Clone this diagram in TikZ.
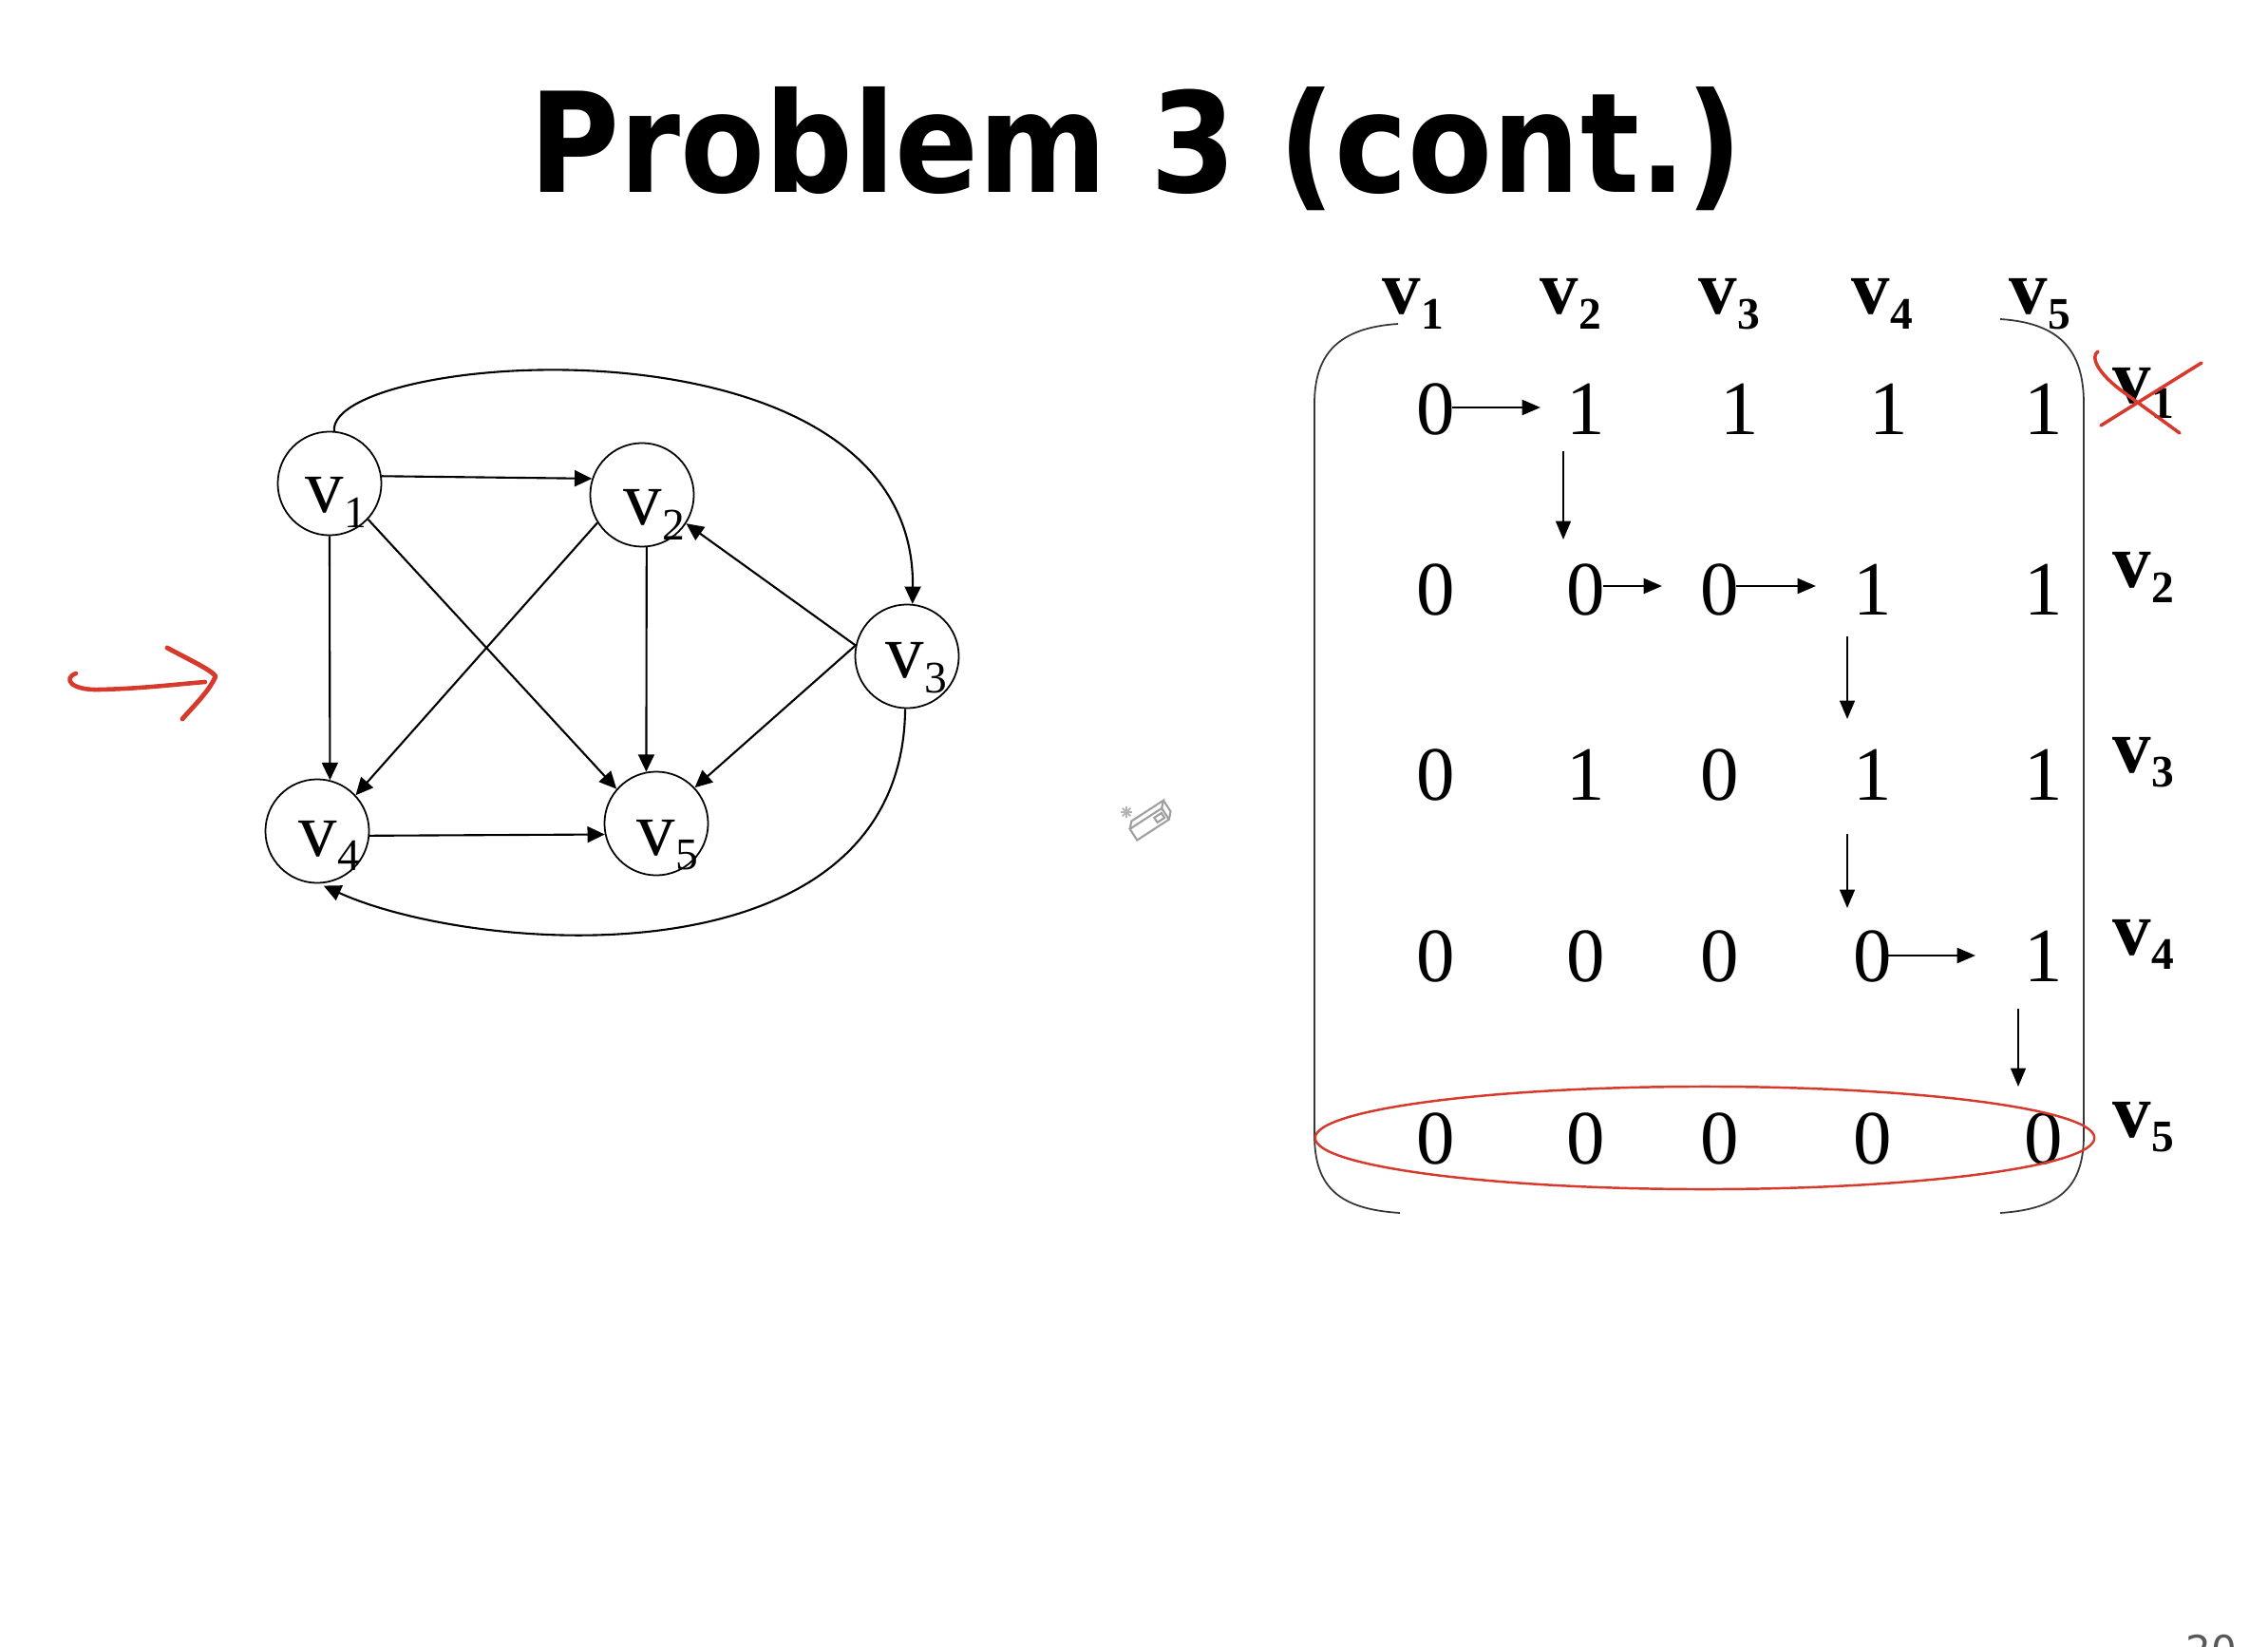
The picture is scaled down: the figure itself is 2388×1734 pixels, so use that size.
\documentclass[tikz,border=0pt]{standalone}
\usepackage{fontspec}
\setmainfont{Liberation Serif}
\newfontfamily\titlefont{DejaVu Sans}
\usetikzlibrary{arrows.meta,calc}
\definecolor{inkred}{RGB}{214,58,44}
\definecolor{brk}{RGB}{55,55,55}
\newcommand\gv[1]{{\fontsize{23}{23}\selectfont v}\raisebox{-4.5pt}{\fontsize{13.5}{13.5}\selectfont #1}}
\newcommand\mv[1]{{\fontsize{23}{23}\selectfont\bfseries v}\raisebox{-4.5pt}{\fontsize{13.5}{13.5}\selectfont\bfseries #1}}
\begin{document}
\begin{tikzpicture}[x=0.01cm,y=-0.01cm,
  vert/.style={circle,draw,line width=0.5pt,minimum size=1.09cm,inner sep=0pt},
  glab/.style={anchor=base west,inner sep=0pt},
  mlab/.style={anchor=base west,inner sep=0pt},
  dig/.style={inner sep=0pt,font=\fontsize{23}{23}\selectfont},
  garrow/.style={line width=0.6pt,-{Triangle[length=5.2pt,width=4.8pt]}},
  harr/.style={line width=0.8pt,-{Triangle[length=5.5pt,width=4.5pt]}},
  varr/.style={line width=0.55pt,-{Triangle[length=5.5pt,width=4.5pt]}},
  ink/.style={draw=inkred,line cap=round,line join=round},
  brack/.style={draw=brk,line width=0.5pt}]
\fill[white] (0,0) rectangle (2388,1734);
\useasboundingbox (0,0) rectangle (2388,1734);

% title
\node[anchor=base,inner sep=0pt] (title) at (1196,203)
  {\resizebox{12.77cm}{1.11cm}{\titlefont\bfseries Problem 3 (cont.)}};

% graph
\node[vert] (v1) at (347,509) {};
\node[vert] (v2) at (676,521) {};
\node[vert] (v3) at (955,691) {};
\node[vert] (v4) at (334,875) {};
\node[vert] (v5) at (691,867) {};
\node[glab] (lv1) at (321,540) {\gv{1}};
\node[glab] (lv2) at (656,553) {\gv{2}};
\node[glab] (lv3) at (932,714) {\gv{3}};
\node[glab] (lv4) at (314,901) {\gv{4}};
\node[glab] (lv5) at (670,900) {\gv{5}};

\draw[garrow] (v1.8) -- (v2.162);
\draw[garrow] (v1.270) -- (v4.76);
\draw[garrow] (v1.317) -- (v5.139);
\draw[garrow] (v2.212) -- (v4.43);
\draw[garrow] (v2.275) -- (v5.101);
\draw[garrow] (v3.168) -- (v2.327);
\draw[garrow] (v3.168) -- (v5.43);
\draw[garrow] (v4.355) -- (v5.192);
\draw[garrow] (v1.85) .. controls (345,370) and (965,320) .. (v3.84);
\draw[garrow,shorten >=1.5pt] (v3.268) .. controls (950,1040) and (500,1005) .. (v4.272);

% red arrow
\draw[ink,line width=1.3pt] (80,709) .. controls (66,714) and (74,727) .. (105,726)
  .. controls (150,725) and (190,720) .. (216,718);
\draw[ink,line width=1.4pt] (176,682) .. controls (200,695) and (222,705) .. (227,712)
  .. controls (220,728) and (205,742) .. (192,757);

% eraser cursor
\begin{scope}[draw=gray!75,line width=0.6pt,rotate around={33:(1208,868)}]
  \draw (1190,862) rectangle (1230,876);
  \draw (1190,862) -- (1196,856) -- (1236,856) -- (1230,862);
  \draw (1236,856) -- (1236,870) -- (1230,876);
  \draw (1218,866) rectangle (1227,872);
\end{scope}
\foreach \a in {0,45,...,315} \draw[gray!60,line width=0.5pt] (1186,855) -- ++(\a:6);

% matrix brackets
\draw[brack] (1472,341) .. controls (1410,345) and (1384,372) .. (1384,425)
  -- (1384,1195) .. controls (1384,1250) and (1410,1273) .. (1474,1277);
\draw[brack] (2106,336) .. controls (2168,340) and (2194,368) .. (2194,425)
  -- (2194,1195) .. controls (2194,1250) and (2168,1273) .. (2106,1277);

% column headers
\node[mlab] (h1) at (1455,331) {\mv{1}};
\node[mlab] (h2) at (1621,331) {\mv{2}};
\node[mlab] (h3) at (1788,331) {\mv{3}};
\node[mlab] (h4) at (1949,331) {\mv{4}};
\node[mlab] (h5) at (2115,331) {\mv{5}};

% row labels
\node[mlab] (r1) at (2224,425) {\mv{1}};
\node[mlab] (r2) at (2224,619) {\mv{2}};
\node[mlab] (r3) at (2224,813) {\mv{3}};
\node[mlab] (r4) at (2224,1005) {\mv{4}};
\node[mlab] (r5) at (2224,1197) {\mv{5}};

% entries
\node[dig] (m11) at (1512,431) {0};
\node[dig] (m12) at (1670,431) {1};
\node[dig] (m13) at (1832,431) {1};
\node[dig] (m14) at (1989,431) {1};
\node[dig] (m15) at (2152,431) {1};
\node[dig] (m21) at (1512,621) {0};
\node[dig] (m22) at (1670,621) {0};
\node[dig] (m23) at (1811,621) {0};
\node[dig] (m24) at (1972,621) {1};
\node[dig] (m25) at (2152,621) {1};
\node[dig] (m31) at (1512,816) {0};
\node[dig] (m32) at (1670,816) {1};
\node[dig] (m33) at (1811,816) {0};
\node[dig] (m34) at (1972,816) {1};
\node[dig] (m35) at (2152,816) {1};
\node[dig] (m41) at (1512,1007) {0};
\node[dig] (m42) at (1670,1007) {0};
\node[dig] (m43) at (1811,1007) {0};
\node[dig] (m44) at (1972,1007) {0};
\node[dig] (m45) at (2152,1007) {1};
\node[dig] (m51) at (1512,1199) {0};
\node[dig] (m52) at (1670,1199) {0};
\node[dig] (m53) at (1811,1199) {0};
\node[dig] (m54) at (1972,1199) {0};
\node[dig] (m55) at (2152,1199) {0};

% path arrows
\draw[harr] ($(m11.center)+(17,-2)$) -- ($(m12.center)+(-48,-2)$);
\draw[varr] ($(m12.center)+(-24,44)$) -- ($(m22.center)+(-24,-53)$);
\draw[harr] ($(m22.center)+(18,-4)$) -- ($(m23.center)+(-61,-4)$);
\draw[harr] ($(m23.center)+(17,-4)$) -- ($(m24.center)+(-60,-4)$);
\draw[varr] ($(m24.center)+(-27,49)$) -- ($(m34.center)+(-27,-59)$);
\draw[varr] ($(m34.center)+(-27,62)$) -- ($(m44.center)+(-27,-51)$);
\draw[harr] ($(m44.center)+(16,-1)$) -- ($(m45.center)+(-72,-1)$);
\draw[varr] ($(m45.center)+(-27,55)$) -- ($(m55.center)+(-27,-55)$);

% red annotations on matrix
\draw[ink,line width=0.7pt] (1795,1198) ellipse [x radius=4.1cm, y radius=0.54cm];
\draw[ink,line width=1pt] (2209,370) .. controls (2200,376) and (2210,393) .. (2232,410) -- (2295,456);
\draw[ink,line width=1pt] (2318,382) -- (2212,448);

% page number (cut off at the lower edge, as in the slide)
\node[anchor=north,inner sep=0pt,text=gray!70!black,font=\titlefont\fontsize{12}{12}\selectfont] (pg) at (2328,1720) {20};
\end{tikzpicture}
\end{document}
